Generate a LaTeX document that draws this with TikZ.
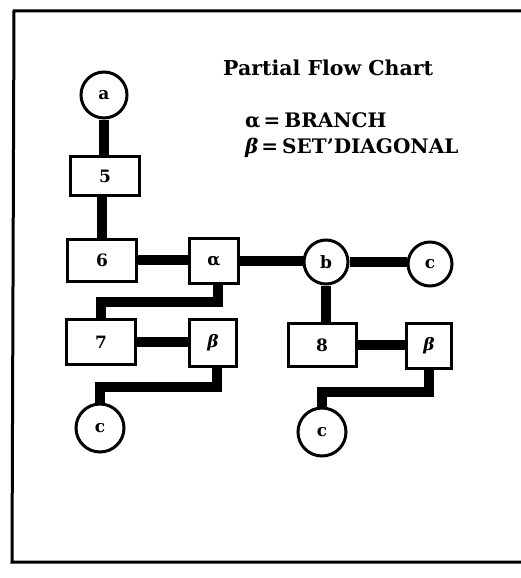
\documentclass[tikz,border=0pt]{standalone}
\usepackage{fontspec}
\setmainfont{DejaVu Serif}
\begin{document}
\begin{tikzpicture}[x=1pt,y=-1pt,
  rbox/.style={draw, line width=3pt, fill=white, rectangle, inner sep=0pt, font=\bfseries\fontsize{17}{17}\selectfont},
  circ/.style={draw, line width=3pt, fill=white, circle, inner sep=0pt, font=\bfseries\fontsize{17}{17}\selectfont},
  conn/.style={line width=9.5pt},
  frame/.style={line width=3pt},
  lbl/.style={anchor=base west, inner sep=0pt, font=\bfseries\fontsize{20}{20}\selectfont}]
\useasboundingbox (0,0) rectangle (520,578);
\coordinate (f1) at (521,11);
\coordinate (f2) at (14,11);
\coordinate (f3) at (12,562);
\coordinate (f4) at (521,562);
\draw[frame] (f1) -- (f2) -- (f3) -- (f4);

\node[circ, minimum size=46pt] (a) at (104,95) {a};
\node[rbox, minimum width=69pt, minimum height=39pt] (b5) at (105,176) {5};
\node[rbox, minimum width=69pt, minimum height=42pt] (b6) at (102,260) {6};
\node[rbox, minimum width=49pt, minimum height=45pt] (al) at (214,261) {α};
\node[circ, minimum size=44pt] (b) at (326,262) {b};
\node[circ, minimum size=44pt] (cr) at (430,264) {c};
\node[rbox, minimum width=69pt, minimum height=45pt] (b7) at (101,342) {7};
\node[rbox, minimum width=47pt, minimum height=47pt] (bl) at (213,343) {\itshape β};
\node[circ, minimum size=48pt] (cl) at (100,428) {c};
\node[rbox, minimum width=68pt, minimum height=43pt] (b8) at (322,345) {8};
\node[rbox, minimum width=45pt, minimum height=45pt] (br) at (429,346) {\itshape β};
\node[circ, minimum size=48pt] (cb) at (322,432) {c};

\draw[conn] (a.south) -- (a.south |- b5.north);
\draw[conn] (b6.north) -- (b6.north |- b5.south);
\draw[conn] (b6.east) -- (b6.east -| al.west);
\draw[conn] (al.east) -- (al.east -| b.west);
\draw[conn] (b.east) -- (b.east -| cr.west);
\draw[conn] (b.south) -- (b.south |- b8.north);
\draw[conn] (b7.east) -- (b7.east -| bl.west);
\draw[conn] (b8.east) -- (b8.east -| br.west);
\coordinate (k1) at (101,302);
\draw[conn] ([xshift=4pt]al.south) |- (k1) -- (b7.north);
\coordinate (k2) at (100,387);
\draw[conn] ([xshift=4pt]bl.south) |- (k2) -- (cl.north);
\coordinate (k3) at (322,392);
\draw[conn] (br.south) |- (k3) -- (cb.north);

\node[lbl, font=\bfseries\fontsize{20.5}{21}\selectfont] (title) at (223,75) {Partial Flow Chart};
\node[lbl] (l1) at (245,127) {α\kern3pt=\kern4pt BRANCH};
\node[lbl] (l2) at (245,153) {\textit{β}\kern3pt=\kern4pt SET'DIAGONAL};
\end{tikzpicture}
\end{document}
